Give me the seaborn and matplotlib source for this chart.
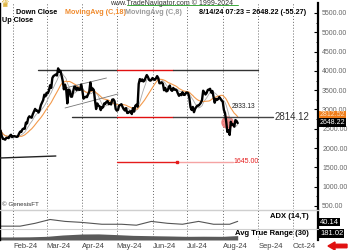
import numpy as np
import pandas as pd
import matplotlib
matplotlib.use("Agg")
import matplotlib.pyplot as plt
import seaborn as sns
from matplotlib.patches import FancyArrow

# ---------------- data ----------------
start_date = "2024-01-20"
jan = [2470, 2455, 2315, 2240, 2235, 2218, 2265, 2268, 2258, 2317, 2345, 2283]
feb = [2305, 2309, 2298, 2290, 2300, 2374, 2425, 2420, 2486, 2506, 2500, 2660, 2640, 2778, 2824,
       2801, 2786, 2880, 2945, 3015, 2970, 2970, 2922, 2992, 3112, 3178, 3243, 3384, 3340]
mar = [3433, 3420, 3487, 3628, 3560, 3817, 3869, 3886, 3909, 3880, 4066, 3981, 4004, 3879, 3740,
       3523, 3644, 3520, 3159, 3516, 3492, 3335, 3330, 3455, 3590, 3587, 3500, 3561, 3510, 3509, 3647]
apr = [3505, 3280, 3310, 3330, 3319, 3391, 3453, 3700, 3505, 3543, 3505, 3239, 3012, 3157, 3100,
       3085, 2984, 3064, 3055, 3156, 3147, 3201, 3219, 3138, 3156, 3131, 3255, 3263, 3215, 3012]
may = [2970, 2989, 3103, 3118, 3137, 3064, 3006, 2974, 3036, 2910, 2913, 2950, 2951, 2882, 3037,
       2945, 3093, 3123, 3071, 3663, 3789, 3738, 3779, 3725, 3748, 3826, 3892, 3843, 3767, 3747, 3762]
jun = [3815, 3782, 3767, 3810, 3865, 3813, 3680, 3681, 3706, 3667, 3498, 3560, 3469, 3482, 3566,
       3621, 3509, 3483, 3559, 3513, 3518, 3494, 3418, 3355, 3393, 3372, 3448, 3380, 3379, 3433]
jul = [3441, 3420, 3296, 3058, 2988, 3067, 2930, 3018, 3065, 3101, 3100, 3135, 3176, 3245, 3487,
       3443, 3388, 3428, 3506, 3518, 3536, 3439, 3480, 3335, 3176, 3276, 3247, 3270, 3322, 3281, 3232]
aug = [3203, 2988, 2903, 2688, 2418, 2460, 2341, 2681, 2600, 2610, 2555, 2725, 2703, 2648]

adx_dates = ["2024-01-20", "2024-02-07", "2024-02-20", "2024-03-04", "2024-03-17", "2024-03-31",
             "2024-04-18", "2024-05-05", "2024-05-18", "2024-05-31", "2024-06-14", "2024-06-27",
             "2024-07-11", "2024-07-24", "2024-08-07", "2024-08-14"]
adx_vals = [27.5, 27.5, 35, 45, 40, 37.5, 32.5, 32.5, 30, 40, 35, 32.5, 40, 32.5, 32.5, 40.14]

atr_dates = ["2024-01-20", "2024-02-01", "2024-02-15", "2024-03-01", "2024-03-15", "2024-04-01",
             "2024-04-15", "2024-05-01", "2024-05-15", "2024-06-01", "2024-06-15", "2024-07-01",
             "2024-07-15", "2024-08-01", "2024-08-14"]
atr_vals = [125, 125, 130, 150, 205, 245, 250, 220, 190, 175, 165, 150, 155, 150, 181.02]

month_ticks = ["2024-02-01", "2024-03-01", "2024-04-01", "2024-05-01", "2024-06-01",
               "2024-07-01", "2024-08-01", "2024-09-01", "2024-10-01"]
month_labels = ["Feb-24", "Mar-24", "Apr-24", "May-24", "Jun-24", "Jul-24", "Aug-24", "Sep-24", "Oct-24"]
price_ticks = [500, 1000, 1500, 2000, 2500, 3000, 3500, 4000, 4500, 5000, 5500]

resistance = 4020
support = 2814.12
target = 1645.00
last_close = 2648.22
ma18_last = 2812.52
hi_label = 2933.13

# ---------------- build frames ----------------
close = jan + feb + mar + apr + may + jun + jul + aug
dates = pd.date_range(start_date, periods=len(close), freq="D")
df = pd.DataFrame({"date": dates, "close": close})
df["ma18"] = df["close"].rolling(18, min_periods=1).mean()
df["ma8"] = df["close"].rolling(8, min_periods=1).mean()
adx = pd.DataFrame({"date": pd.to_datetime(adx_dates), "adx": adx_vals})
atr = pd.DataFrame({"date": pd.to_datetime(atr_dates), "atr": atr_vals})
mt = pd.to_datetime(month_ticks)

sns.set_style("white")
plt.rcParams["font.family"] = ["Liberation Sans", "DejaVu Sans"]

W, H = 350, 250
fig = plt.figure(figsize=(3.5, 2.5), dpi=100)
fig.patch.set_facecolor("white")


def box(x0, y0, x1, y1):
    return [x0 / W, 1 - y1 / H, (x1 - x0) / W, (y1 - y0) / H]


ax = fig.add_axes(box(0, 3, 318, 209))
ax_adx = fig.add_axes(box(0, 210, 318, 229), sharex=ax)
ax_atr = fig.add_axes(box(0, 229, 318, 240), sharex=ax)

xmin = pd.Timestamp("2024-01-20 12:00")
xmax = pd.Timestamp("2024-10-22 18:00")
grid_kw = dict(color="#666666", linestyle=(0, (1, 2)), linewidth=0.7)

for a in (ax, ax_adx, ax_atr):
    a.set_facecolor("white")
    for m in mt:
        a.axvline(m, zorder=0, **grid_kw)
    for s in ("top", "bottom"):
        a.spines[s].set_visible(False)
    a.spines["left"].set_color("black")
    a.spines["left"].set_linewidth(1.0)
    a.spines["right"].set_color("black")
    a.spines["right"].set_linewidth(1.6)

# ---------------- main price panel ----------------
ax.set_xlim(xmin, xmax)
ax.set_ylim(422, 5759)

# pink marker at the Aug 5 crash
ax.plot(pd.Timestamp("2024-08-05"), 2676, "o", ms=8, color="#f07878", alpha=0.85, zorder=2)

sns.lineplot(data=df, x="date", y="ma8", ax=ax, color="#a8a8a8", lw=0.6, zorder=3)
sns.lineplot(data=df, x="date", y="ma18", ax=ax, color="#f39a4c", lw=0.8, zorder=3)
sns.lineplot(data=df, x="date", y="close", ax=ax, color="black", lw=1.7, zorder=4)

# resistance / support lines
ax.plot([pd.Timestamp("2024-02-22 16:00"), pd.Timestamp("2024-05-01")], [resistance] * 2,
        color="#333333", lw=1.0, zorder=3)
ax.plot([pd.Timestamp("2024-05-01"), pd.Timestamp("2024-06-19")], [resistance] * 2,
        color="#e01010", lw=1.0, zorder=3)
ax.plot([pd.Timestamp("2024-06-19"), pd.Timestamp("2024-09-01")], [resistance] * 2,
        color="#333333", lw=1.0, zorder=3)
ax.plot([pd.Timestamp("2024-03-23"), pd.Timestamp("2024-05-01")], [support] * 2,
        color="#333333", lw=1.0, zorder=3)
ax.plot([pd.Timestamp("2024-05-01"), pd.Timestamp("2024-06-19")], [support] * 2,
        color="#e01010", lw=1.0, zorder=3)
ax.plot([pd.Timestamp("2024-06-19"), pd.Timestamp("2024-09-14")], [support] * 2,
        color="#444444", lw=1.0, zorder=3)

# channel lines
ax.plot([pd.Timestamp("2024-03-17"), pd.Timestamp("2024-04-22")], [3557, 3816],
        color="#777777", lw=0.6, zorder=3)
ax.plot([pd.Timestamp("2024-03-17"), pd.Timestamp("2024-05-02")], [3039, 3402],
        color="#777777", lw=0.6, zorder=3)
# early trend line
ax.plot([pd.Timestamp("2024-01-20"), pd.Timestamp("2024-03-09")], [1743, 1795],
        color="#222222", lw=1.0, zorder=3)
# target line
ax.plot([pd.Timestamp("2024-05-01"), pd.Timestamp("2024-06-22")], [target] * 2,
        color="#e51c1c", lw=1.0, zorder=3)
ax.plot([pd.Timestamp("2024-06-22"), pd.Timestamp("2024-08-10")], [target] * 2,
        color="#f5a3a3", lw=1.0, zorder=3)
ax.plot(pd.Timestamp("2024-06-22"), target, "s", ms=2, color="#e51c1c", zorder=4)
# thin green line along the top
ax.plot([pd.Timestamp("2024-05-10"), pd.Timestamp("2024-08-14")], [5715, 5715],
        color="#3aa83a", lw=0.7, zorder=3)

ax.text(pd.Timestamp("2024-08-10"), target, "1645.00", color="#e51c1c", fontsize=5,
        va="center", ha="left")
ax.text(pd.Timestamp("2024-08-09"), hi_label + 60, "2933.13", color="#222222", fontsize=4.8,
        va="bottom", ha="left")
ax.text(pd.Timestamp("2024-09-15"), support, "2814.12", color="#333333", fontsize=7,
        va="center", ha="left")

ax.yaxis.tick_right()
ax.set_yticks(price_ticks)
ax.set_yticklabels([f"{v:.2f}" for v in price_ticks])
ax.set_yticks(np.arange(750, 5500, 500), minor=True)
ax.tick_params(axis="y", which="major", direction="in", length=3, width=0.8, color="black",
               labelsize=5, labelcolor="#666666", pad=3, right=True, left=False)
ax.tick_params(axis="y", which="minor", direction="in", length=1.5, width=0.6, color="black",
               right=True, left=False)
ax.tick_params(axis="x", bottom=False, labelbottom=False)

# ---------------- ADX panel ----------------
sns.lineplot(data=adx, x="date", y="adx", ax=ax_adx, color="#555555", lw=0.8)
ax_adx.set_ylim(20, 70)
ax_adx.set_yticks([])
ax_adx.tick_params(axis="x", bottom=False, labelbottom=False)

# ---------------- ATR panel ----------------
ax_atr.fill_between(atr["date"], 0, atr["atr"], color="#5a5a5a", lw=0)
ax_atr.set_ylim(0, 450)
ax_atr.set_yticks([])
ax_atr.set_xlim(xmin, xmax)
ax_atr.set_xticks(mt)
ax_atr.set_xticklabels(month_labels, ha="left", fontsize=5.5, color="#444444")
ax_atr.tick_params(axis="x", length=0, pad=2.5)

for a in (ax, ax_adx, ax_atr):
    a.set_xlabel("")
    a.set_ylabel("")

# separators
fig.add_artist(plt.Line2D([0, 318 / W], [1 - 209.5 / H] * 2, color="#cfcfcf", lw=1.0))
fig.add_artist(plt.Line2D([0, 318 / W], [1 - 229 / H] * 2, color="#cfcfcf", lw=0.8))

# ---------------- texts ----------------
def ftext(x, y, s, **kw):
    fig.text(x / W, 1 - y / H, s, **kw)

ftext(1, 4, "\u265b", color="#d9a61a", fontsize=7, va="center", ha="left", family="DejaVu Sans")
ftext(110, 3.5, "www.TradeNavigator.com \u00a9 1999-2024", color="#333333", fontsize=5, va="center")
ftext(16, 12, "Down Close", color="black", fontsize=5.2, fontweight="bold", va="center")
ftext(65, 12, "MovingAvg (C,18)", color="#f08a2c", fontsize=5.2, fontweight="bold", va="center")
ftext(125, 12, "MovingAvg (C,8)", color="#9a9a9a", fontsize=5.2, fontweight="bold", va="center")
ftext(199, 12, "8/14/24 07:23 = 2648.22 (-55.27)", color="black", fontsize=5.2,
      fontweight="bold", va="center", bbox=dict(facecolor="white", edgecolor="none", pad=0.3))
ftext(2, 20, "Up Close", color="black", fontsize=5.2, fontweight="bold", va="center")
ftext(2, 205, "\u00a9 GenesisFT", color="#333333", fontsize=4.5, va="center")
ftext(270, 216, "ADX (14,T)", color="black", fontsize=5.5, fontweight="bold", va="center")
ftext(235, 233.5, "Avg True Range (30)", color="black", fontsize=5.5, fontweight="bold", va="center")

ftext(320, 115, f"{ma18_last:.2f}", color="#fde0c0", fontsize=5, va="center",
      bbox=dict(facecolor="#f07d1a", edgecolor="none", pad=0.5))
ftext(320, 122.5, f"{last_close:.2f}", color="white", fontsize=5, va="center",
      bbox=dict(facecolor="black", edgecolor="none", pad=0.5))
ftext(320, 222, f"{adx_vals[-1]:.2f}", color="white", fontsize=5.5, va="center",
      bbox=dict(facecolor="black", edgecolor="none", pad=0.6))
ftext(320, 233.5, f"{atr_vals[-1]:.2f}", color="white", fontsize=5.5, va="center",
      bbox=dict(facecolor="black", edgecolor="none", pad=0.6))

# red arrow bottom right
fig.add_artist(FancyArrow(347 / W, 1 - 246 / H, -19 / W, 0, width=3.5 / H, head_width=8 / H,
                          head_length=7 / W, length_includes_head=True, color="#e01010",
                          transform=fig.transFigure))

fig.savefig("out.png", dpi=100)
